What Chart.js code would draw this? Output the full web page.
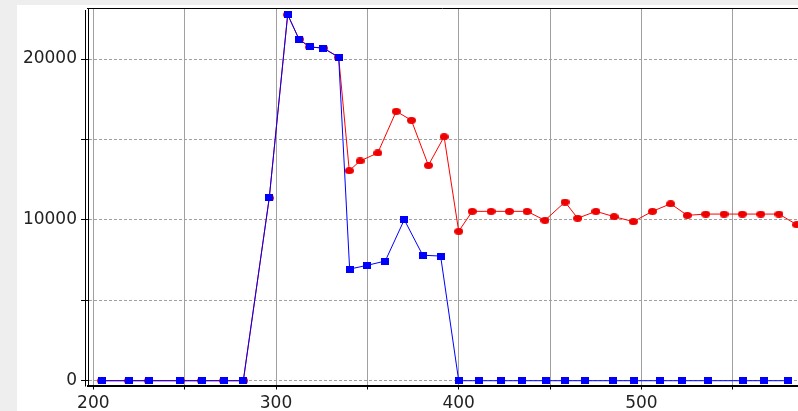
<!DOCTYPE html>
<html>
<head>
<meta charset="utf-8">
<script src="https://cdn.jsdelivr.net/npm/chart.js@4.4.0/dist/chart.umd.min.js"></script>
<style>
  html, body { margin: 0; padding: 0; background: #eeeeee; }
  #wrap { width: 798px; height: 411px; }
</style>
</head>
<body>
<div id="wrap"><canvas id="mainChart" width="798" height="411"></canvas></div>
<script>
// Values
const blueX = [204.6, 219.5, 230.3, 247.5, 259.3, 271.5, 282.1, 296.3, 306.4, 312.6, 318.4, 325.9, 334.3,
  340.3, 349.8, 359.8, 370.2, 380.3, 390.1, 400.0, 411.1, 423.2, 434.8, 447.8, 458.3, 469.1, 484.5,
  496.0, 510.2, 522.1, 536.5, 555.6, 567.1, 580.1];
const blueY = [0, 0, 0, 0, 0, 0, 0, 11360, 22760, 21230, 20750, 20680, 20110,
  6940, 7170, 7440, 10010, 7800, 7750, 0, 0, 0, 0, 0, 0, 0, 0,
  0, 0, 0, 0, 0, 0, 0];

const redX = [204.6, 219.5, 230.3, 247.5, 259.3, 271.5, 282.1, 296.3, 306.4, 312.6, 318.4, 325.9, 334.3,
  340.1, 346.0, 355.7, 365.8, 374.1, 383.4, 392.0, 400.0, 407.4, 417.7, 427.7, 437.4, 447.2, 458.2,
  465.1, 475.1, 485.0, 495.6, 506.0, 516.0, 525.1, 535.2, 545.2, 555.2, 565.3, 575.3, 585.0];
const redY = [0, 0, 0, 0, 0, 0, 0, 11360, 22760, 21230, 20750, 20680, 20110,
  13060, 13660, 14160, 16750, 16190, 13390, 15170, 9290, 10530, 10530, 10530, 10530, 9970, 11110,
  10100, 10530, 10200, 9890, 10530, 11000, 10280, 10360, 10360, 10360, 10360, 10360, 9700];

// grid positions and labelled ticks
const xGrid = [200, 250, 300, 350, 400, 450, 500, 550];
const xTickLabels = [200, 300, 400, 500];
const yGrid = [0, 5000, 10000, 15000, 20000];
const yTickLabels = [0, 10000, 20000];

function toPoints(xs, ys) {
  return xs.map((x, i) => ({ x: x, y: ys[i] }));
}

// small canvases used as point markers
function makeMarker(w, h, color, round) {
  const c = document.createElement('canvas');
  c.width = w;
  c.height = h;
  const g = c.getContext('2d');
  g.fillStyle = color;
  if (round) {
    g.beginPath();
    g.ellipse(w / 2, h / 2, w / 2, h / 2, 0, 0, Math.PI * 2);
    g.fill();
  } else {
    g.fillRect(0, 0, w, h);
  }
  return c;
}

const framePlugin = {
  id: 'frame',
  beforeDraw(chart) {
    const c = chart.ctx;
    c.save();
    c.fillStyle = '#eeeeee';
    c.fillRect(0, 0, chart.width, chart.height);
    c.fillStyle = '#ffffff';
    c.fillRect(17, 5, chart.width - 17, chart.height - 5);
    c.restore();
  },
  afterDraw(chart) {
    const a = chart.chartArea;
    const c = chart.ctx;
    c.save();
    c.strokeStyle = '#000';
    c.lineWidth = 1;
    c.beginPath();
    c.moveTo(a.left - 1, a.top + 0.5);
    c.lineTo(a.right, a.top + 0.5);
    c.moveTo(a.left - 2.5, a.top + 2);
    c.lineTo(a.left - 2.5, a.bottom + 1);
    c.stroke();
    c.restore();
  }
};

// drop the label-based padding so the plot area is set by layout only
function noPad(axis) {
  axis.paddingTop = 0;
  axis.paddingBottom = 0;
  axis.paddingLeft = 0;
  axis.paddingRight = 0;
}

document.addEventListener('DOMContentLoaded', function () {
  const ctx = document.getElementById('mainChart').getContext('2d');
  new Chart(ctx, {
    type: 'line',
    data: {
      datasets: [
        {
          label: 'blue',
          data: toPoints(blueX, blueY),
          borderColor: '#0000ff',
          borderWidth: 1,
          pointStyle: makeMarker(8, 7, '#0000ff', false),
          tension: 0
        },
        {
          label: 'red',
          data: toPoints(redX, redY),
          borderColor: '#ff0000',
          borderWidth: 1,
          pointStyle: makeMarker(9, 7, '#ee0000', true),
          tension: 0
        }
      ]
    },
    options: {
      responsive: false,
      animation: false,
      devicePixelRatio: 1,
      layout: {
        autoPadding: false,
        padding: { top: 8, left: 0, right: 0, bottom: 0 }
      },
      plugins: {
        legend: { display: false },
        tooltip: { enabled: false }
      },
      scales: {
        x: {
          type: 'linear',
          min: 197.1,
          max: 585.7,
          afterBuildTicks: (axis) => {
            axis.ticks = xGrid.map(v => ({ value: v }));
          },
          afterFit: (axis) => { axis.height = 25.5; noPad(axis); },
          ticks: {
            autoSkip: false,
            maxRotation: 0,
            padding: 4,
            color: '#222',
            font: { family: 'DejaVu Sans', size: 17 },
            callback: (v) => xTickLabels.includes(v) ? String(v) : ''
          },
          grid: {
            color: '#a0a0a0',
            lineWidth: 1,
            tickLength: 4,
            tickColor: '#000'
          },
          border: { display: true, color: '#000', width: 2 }
        },
        y: {
          type: 'linear',
          min: -298,
          max: 23171,
          afterBuildTicks: (axis) => {
            axis.ticks = yGrid.map(v => ({ value: v }));
          },
          afterFit: (axis) => { axis.width = 88; noPad(axis); },
          ticks: {
            autoSkip: false,
            padding: 4,
            color: '#222',
            font: { family: 'DejaVu Sans', size: 17 },
            callback: (v) => yTickLabels.includes(v) ? String(v) : ''
          },
          grid: {
            color: '#a0a0a0',
            lineWidth: 1,
            tickLength: 7,
            tickColor: '#000'
          },
          border: { display: true, color: '#000', width: 1, dash: [3, 2] }
        }
      }
    },
    plugins: [framePlugin]
  });
});
</script>
</body>
</html>
